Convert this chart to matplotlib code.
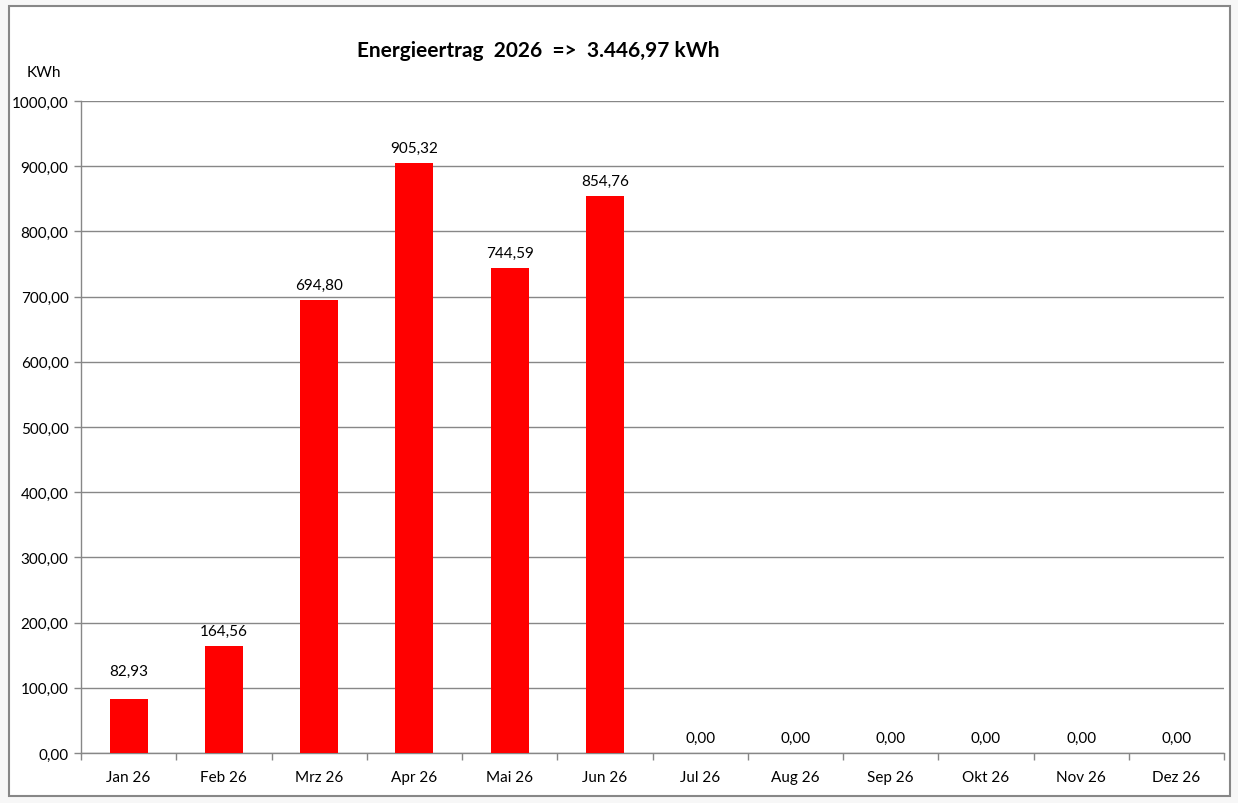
import matplotlib
matplotlib.use("Agg")
import matplotlib.pyplot as plt
from matplotlib.patches import Rectangle
import numpy as np

months = ["Jan 26", "Feb 26", "Mrz 26", "Apr 26", "Mai 26", "Jun 26",
          "Jul 26", "Aug 26", "Sep 26", "Okt 26", "Nov 26", "Dez 26"]
energy = [82.93, 164.56, 694.80, 905.32, 744.59, 854.76,
          0.0, 0.0, 0.0, 0.0, 0.0, 0.0]
yticks = [0, 100, 200, 300, 400, 500, 600, 700, 800, 900, 1000]
title = "Energieertrag  2026  =>  3.446,97 kWh"


def de_fmt(v):
    # decimal comma, no thousands separator (like the Excel axis)
    return f"{v:.2f}".replace(".", ",")


plt.rcParams['font.family'] = ['Lato', 'DejaVu Sans']
grey = '#878787'

fig = plt.figure(figsize=(12.38, 8.04), dpi=100)
fig.patch.set_facecolor('#f7f7f7')
# white chart area with grey frame
fig.patches.append(Rectangle((9 / 1238, 1 - 797 / 804), 1221 / 1238, 790 / 804,
                             transform=fig.transFigure, facecolor='white',
                             edgecolor=grey, linewidth=1.5, zorder=-10))

ax = fig.add_axes((81 / 1238, 1 - 754 / 804, 1143 / 1238, 652 / 804))
ax.set_facecolor('none')

x = np.arange(len(months))
bars = ax.bar(x, energy, width=0.4, color='#ff0000', zorder=3)

for i, (xi, v) in enumerate(zip(x, energy)):
    # Excel lifted the first label clear of the 100 gridline
    off = 15.5 if i == 0 else 5.5
    ax.annotate(de_fmt(v), (xi, v), xytext=(0, off), textcoords='offset points',
                ha='center', va='bottom', fontsize=11, color='black')

ax.set_xlim(-0.5, len(months) - 0.5)
ax.set_ylim(0, 1000)
ax.set_yticks(yticks)
ax.set_yticklabels([de_fmt(t) for t in yticks], fontsize=11)
ax.set_xticks(x)
ax.set_xticklabels(months, fontsize=11)
ax.set_xticks(np.arange(-0.5, len(months)), minor=True)
ax.tick_params(axis='x', which='major', length=0, pad=12)
ax.tick_params(axis='x', which='minor', length=5, color=grey, width=1)
ax.tick_params(axis='y', length=5, color=grey, width=1, pad=4)

ax.yaxis.grid(True, color=grey, linewidth=1)
ax.set_axisbelow(True)
for side in ['top', 'right']:
    ax.spines[side].set_visible(False)
for side in ['left', 'bottom']:
    ax.spines[side].set_color(grey)
    ax.spines[side].set_linewidth(1)

fig.text(538 / 1238, 1 - 51 / 804, title,
         ha='center', va='center', fontsize=15, fontweight='bold')
fig.text(44 / 1238, 1 - 73 / 804, "KWh", ha='center', va='center', fontsize=11)

fig.savefig("out.png", dpi=100, facecolor=fig.get_facecolor())
